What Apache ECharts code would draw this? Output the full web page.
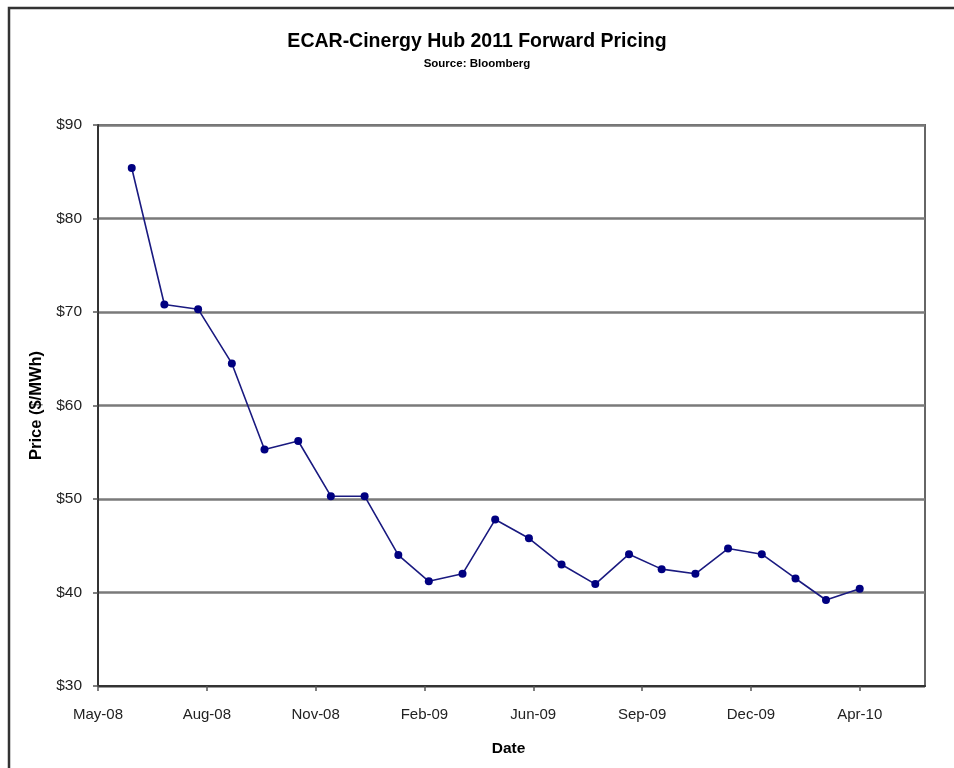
<!DOCTYPE html>
<html>
<head>
<meta charset="utf-8">
<script src="https://cdn.jsdelivr.net/npm/echarts@6/dist/echarts.min.js"></script>
<style>
  html, body { margin: 0; padding: 0; background: #fff; }
  #chart { width: 954px; height: 768px; }
</style>
</head>
<body>
<div id="chart"></div>
<script>
// monthly forward price, first of each month (Jun-08 .. Apr-10)
const dates = [
  '2008-06-01', '2008-07-01', '2008-08-01', '2008-09-01', '2008-10-01', '2008-11-01',
  '2008-12-01', '2009-01-01', '2009-02-01', '2009-03-01', '2009-04-01', '2009-05-01',
  '2009-06-01', '2009-07-01', '2009-08-01', '2009-09-01', '2009-10-01', '2009-11-01',
  '2009-12-01', '2010-01-01', '2010-02-01', '2010-03-01', '2010-04-01',
]
const prices = [
  85.4, 70.8, 70.3, 64.5, 55.3, 56.2,
  50.3, 50.3, 44.0, 41.2, 42.0, 47.8,
  45.8, 43.0, 40.9, 44.1, 42.5, 42.0,
  44.7, 44.1, 41.5, 39.2, 40.4,
]
// Excel-style date axis: ticks every 100 days starting 1 May 2008
const axisStart = '2008-05-01'
const tickLabels = ['May-08', 'Aug-08', 'Nov-08', 'Feb-09', 'Jun-09', 'Sep-09', 'Dec-09', 'Apr-10']
const tickStep = 100
const axisSpan = 760

const DAY = 86400000
const t0 = Date.parse(axisStart)
const dayOf = (d) => Math.round((Date.parse(d) - t0) / DAY)
const tickDays = tickLabels.map((_, i) => i * tickStep)

const font = '"Liberation Sans", Arial, sans-serif'
const chart = echarts.init(document.getElementById('chart'), null, { renderer: 'canvas' })

chart.setOption({
  backgroundColor: '#fff',
  animation: false,
  title: {
    text: 'ECAR-Cinergy Hub 2011 Forward Pricing',
    subtext: 'Source: Bloomberg',
    left: 'center',
    top: 27,
    padding: [5, 5, 5, 13],
    itemGap: 6,
    textStyle: { fontFamily: font, fontSize: 19.5, fontWeight: 'bold', color: '#000' },
    subtextStyle: { fontFamily: font, fontSize: 11.5, fontWeight: 'bold', color: '#000' },
  },
  graphic: [
    {
      type: 'polyline',
      shape: { points: [[9, 800], [9, 8], [1000, 8]] },
      style: { stroke: '#333', lineWidth: 2.5, fill: null },
      silent: true,
    },
  ],
  grid: {
    left: 98, right: 29, top: 125, bottom: 82,
    show: true,
    borderColor: '#666',
    borderWidth: 2,
  },
  xAxis: {
    type: 'value',
    min: 0,
    max: axisSpan,
    interval: tickStep,
    name: 'Date',
    nameLocation: 'middle',
    nameGap: 55,
    nameTextStyle: { fontFamily: font, fontSize: 15.5, fontWeight: 'bold', color: '#000', padding: [0, 6, 0, 0] },
    axisLine: { onZero: false, lineStyle: { color: '#333', width: 2 } },
    axisTick: { customValues: tickDays, length: 5, lineStyle: { color: '#555', width: 1.5 } },
    axisLabel: {
      customValues: tickDays,
      margin: 21,
      fontFamily: font,
      fontSize: 15,
      color: '#222',
      formatter: (v) => tickLabels[Math.round(v / tickStep)] || '',
    },
    splitLine: { show: false },
  },
  yAxis: {
    type: 'value',
    min: 30,
    max: 90,
    interval: 10,
    name: 'Price ($/MWh)',
    nameLocation: 'middle',
    nameGap: 53,
    nameTextStyle: { fontFamily: font, fontSize: 16.5, fontWeight: 'bold', color: '#000' },
    axisLine: { show: true, lineStyle: { color: '#333', width: 2 } },
    axisTick: { show: true, length: 5, lineStyle: { color: '#555', width: 1.5 } },
    axisLabel: {
      margin: 16,
      fontFamily: font,
      fontSize: 15.5,
      color: '#222',
      formatter: (v) => '$' + v,
    },
    splitLine: { show: true, lineStyle: { color: '#7a7a7a', width: 2.5 } },
  },
  series: [
    {
      name: 'Price',
      type: 'line',
      data: dates.map((d, i) => [dayOf(d), prices[i]]),
      symbol: 'circle',
      symbolSize: 8,
      lineStyle: { color: '#1a1a80', width: 1.6 },
      itemStyle: { color: '#000080' },
    },
  ],
})
</script>
</body>
</html>
